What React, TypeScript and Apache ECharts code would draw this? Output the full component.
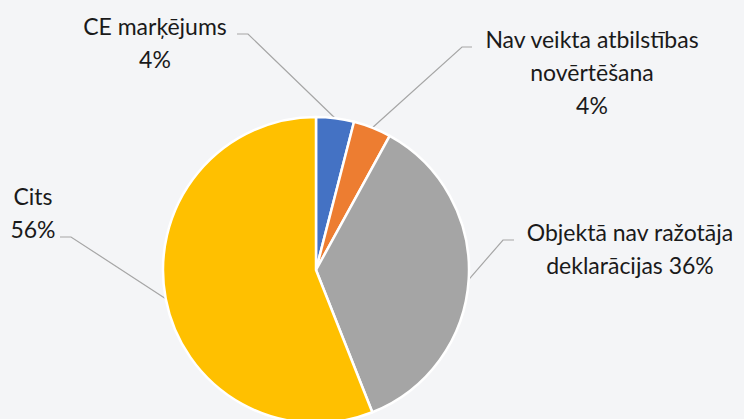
import React, { useEffect, useRef } from "react";
import * as echarts from "echarts";

const categories = [
  "CE marķējums",
  "Nav veikta atbilstības\nnovērtēšana",
  "Objektā nav ražotāja\ndeklarācijas",
  "Cits",
];
const values = [4, 4, 36, 56];
const separators = ["\n", "\n", " ", "\n"];
const colors = ["#4472C4", "#ED7D31", "#A5A5A5", "#FFC000"];

// label anchor (center x, middle y) and leader-line bend/end points
const labelAnchors = [
  { x: 155, y: 42, bend: [248, 34], end: [237, 34] },
  { x: 592, y: 72, bend: [462, 47], end: [472, 47] },
  { x: 630, y: 248, bend: [503, 240], end: [514, 240] },
  { x: 33, y: 212, bend: [71, 237], end: [60, 237] },
];

export default function App() {
  const ref = useRef<HTMLDivElement>(null);
  useEffect(() => {
    if (!ref.current) return;
    const chart = echarts.init(ref.current, undefined, { renderer: "svg" });
    const cx = 316;
    const cy = 270;
    const r = 153;
    chart.setOption({
      animation: false,
      backgroundColor: "#f4f5f7",
      series: [
        {
          type: "pie",
          center: [cx, cy],
          radius: [0, r],
          startAngle: 90,
          clockwise: true,
          data: categories.map((name, i) => ({
            name,
            value: values[i],
            itemStyle: { color: colors[i] },
          })),
          itemStyle: { borderColor: "#ffffff", borderWidth: 2.5 },
          label: {
            show: true,
            position: "outside",
            color: "#1a1a1a",
            fontFamily: "Lato",
            fontSize: 23,
            lineHeight: 33,
            align: "center",
            formatter: (p: any) =>
              `${p.name}${separators[p.dataIndex]}${Math.round(p.percent)}%`,
          },
          labelLine: {
            show: true,
            lineStyle: { color: "#a6a6a6", width: 1.2 },
          },
          labelLayout: (params: any) => {
            const a = labelAnchors[params.dataIndex];
            const i = params.dataIndex;
            const startAngle = 90;
            let acc = 0;
            const total = values.reduce((s, v) => s + v, 0);
            for (let k = 0; k < i; k++) acc += values[k];
            const mid = ((acc + values[i] / 2) / total) * 360;
            const ang = ((startAngle - mid) * Math.PI) / 180;
            const start = [cx + r * Math.cos(ang), cy - r * Math.sin(ang)];
            return {
              x: a.x,
              y: a.y,
              align: "center",
              verticalAlign: "middle",
              labelLinePoints: [start, a.bend, a.end],
            };
          },
        },
      ],
    });
    return () => chart.dispose();
  }, []);
  return (
    <div
      ref={ref}
      style={{ position: "fixed", left: 0, top: 0, width: 744, height: 419 }}
    />
  );
}
